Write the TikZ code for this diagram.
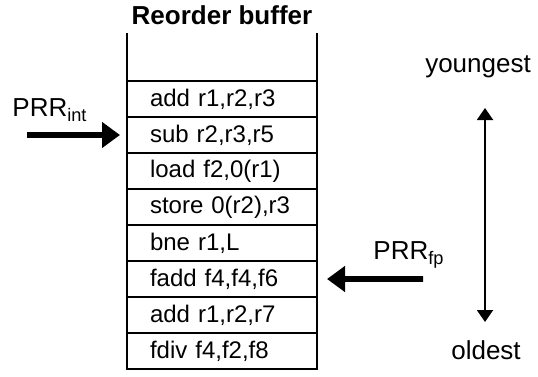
\documentclass[tikz,border=0pt]{standalone}
\usepackage{fontspec}
\setmainfont{Liberation Sans}
\usetikzlibrary{positioning,arrows.meta}
\definecolor{robblack}{RGB}{0,0,0}

\begin{document}
\begin{tikzpicture}[x=10pt,y=10pt,
    robrow/.style={draw=robblack, line width=1pt, minimum height=18pt, text width=72pt,
      inner xsep=11.5pt, inner ysep=0pt, outer sep=0pt, align=left,
      font=\fontsize{12}{14}\selectfont},
    robtext/.style={font=\fontsize{13}{15}\selectfont, text=robblack},
    bigarrow/.style={robblack, line width=2.8pt, -{Triangle[length=9pt,width=12.5pt]}},
    agearrow/.style={robblack, line width=1pt,
      {Triangle[length=6pt,width=8pt]}-{Triangle[length=6pt,width=8pt]}}]
    \useasboundingbox (0,0) rectangle (26.9,18.8);

    % Title
    \node[robtext, font=\fontsize{13}{15}\selectfont\bfseries] (title) at (11.1,18.05) {Reorder buffer};

    % Buffer entries
    \node[robrow, anchor=north] (r1) at (11.1,14.75) {add r1,r2,r3};
    \node[robrow, below=0pt of r1] (r2) {sub r2,r3,r5};
    \node[robrow, below=0pt of r2] (r3) {load f2,0(r1)};
    \node[robrow, below=0pt of r3] (r4) {store 0(r2),r3};
    \node[robrow, below=0pt of r4] (r5) {bne r1,L};
    \node[robrow, below=0pt of r5] (r6) {fadd f4,f4,f6};
    \node[robrow, below=0pt of r6] (r7) {add r1,r2,r7};
    \node[robrow, below=0pt of r7] (r8) {fdiv f4,f2,f8};

    % Open top of the buffer
    \draw[robblack, line width=1pt] (r1.north west) -- ++(0,2.4);
    \draw[robblack, line width=1pt] (r1.north east) -- ++(0,2.4);

    % Integer pointer
    \node[robtext] (intlabel) at (2.5,13.3) {PRR\textsubscript{int}};
    \coordinate (intstart) at (1.35,12.05);
    \draw[bigarrow] (intstart) -- ([xshift=-3.5pt]r2.west);

    % Floating point pointer
    \node[robtext] (fplabel) at (20.45,6.05) {PRR\textsubscript{fp}};
    \coordinate (fpstart) at (21.15,4.85);
    \draw[bigarrow] (fpstart) -- ([xshift=5pt]r6.east);

    % Age of the entries
    \node[robtext] (young) at (23.9,15.45) {youngest};
    \node[robtext] (old) at (24.3,1.3) {oldest};
    \coordinate (youngtip) at (24.25,13.4);
    \coordinate (oldtip) at (24.25,2.7);
    \draw[agearrow] (youngtip) -- (oldtip);
\end{tikzpicture}
\end{document}
